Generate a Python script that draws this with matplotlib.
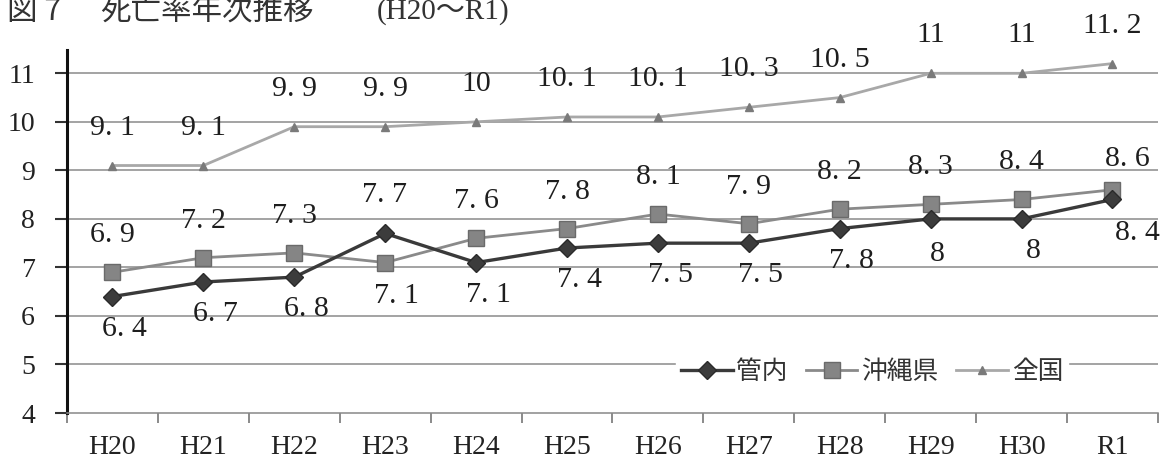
import matplotlib
matplotlib.use("Agg")
import numpy as np
import matplotlib.pyplot as plt
from matplotlib.ticker import FixedLocator

years = ["H20", "H21", "H22", "H23", "H24", "H25", "H26", "H27", "H28", "H29", "H30", "R1"]
kannai = [6.4, 6.7, 6.8, 7.7, 7.1, 7.4, 7.5, 7.5, 7.8, 8, 8, 8.4]
okinawa = [6.9, 7.2, 7.3, 7.1, 7.6, 7.8, 8.1, 7.9, 8.2, 8.3, 8.4, 8.6]
zenkoku = [9.1, 9.1, 9.9, 9.9, 10, 10.1, 10.1, 10.3, 10.5, 11, 11, 11.2]

serif = "Liberation Serif"
cjk = ["Noto Sans CJK JP", "DejaVu Sans"]
W, H = 1170, 461

fig = plt.figure(figsize=(11.7, 4.61), dpi=100)
ax = fig.add_axes([0.0573, 0.1041, 0.9897 - 0.0573, 0.8915 - 0.1041])

x = np.arange(len(years))

ax.plot(x, zenkoku, color="#a8a8a8", lw=2, marker="^", ms=6,
        mfc="#7a7a7a", mec="#7a7a7a", label="全国", zorder=3)
ax.plot(x, okinawa, color="#8a8a8a", lw=2, marker="s", ms=11.5,
        mfc="#858585", mec="#6a6a6a", label="沖縄県", zorder=4)
ax.plot(x, kannai, color="#3a3a3a", lw=2.4, marker="D", ms=9,
        mfc="#3c3c3c", mec="#2a2a2a", label="管内", zorder=5)

def fmt(v):
    s = ("%g" % v)
    return s.replace(".", ". ")

# data labels: default offset per series (pixels), a few moved by hand
offsets = {
    "zenkoku": (0, 38),
    "okinawa": (0, 37),
    "kannai": (12, -32),
}
special = {
    ("okinawa", 3): (11, -33),
    ("okinawa", 11): (15, 31),
    ("kannai", 3): (-1, 38),
    ("kannai", 11): (25, -34),
    ("kannai", 9): (7, -35),
}
for name, vals in [("zenkoku", zenkoku), ("okinawa", okinawa), ("kannai", kannai)]:
    for i, v in enumerate(vals):
        dx, dy = special.get((name, i), offsets[name])
        ax.annotate(fmt(v), (x[i], v), xytext=(dx, dy), textcoords="offset pixels",
                    ha="center", va="center", fontsize=21.5, family=serif,
                    color="#1e1e1e", zorder=6)

ax.set_xlim(-0.5, len(years) - 0.5)
ax.set_ylim(4, 11.48)

ax.set_yticks(range(4, 12))
ax.set_yticklabels([str(v) for v in range(4, 12)], family=serif, fontsize=20, color="#222222")
ax.tick_params(axis="y", direction="out", length=9, width=1.5, pad=14, color="#333333")

ax.set_xticks(x)
ax.set_xticklabels(years, family=serif, fontsize=20, color="#222222")
ax.xaxis.set_minor_locator(FixedLocator(np.arange(-0.5, len(years), 1)))
ax.tick_params(axis="x", which="major", length=0, pad=16)
ax.tick_params(axis="x", which="minor", direction="out", length=7, width=1.2, color="#777777")

for v in range(5, 12):
    ax.axhline(v, color="#8a8a8a", lw=1.1, zorder=1)

for s in ["top", "right"]:
    ax.spines[s].set_visible(False)
ax.spines["left"].set_linewidth(2.2)
ax.spines["left"].set_color("#111111")
ax.spines["bottom"].set_color("#888888")
ax.spines["bottom"].set_linewidth(1.1)

h, l = ax.get_legend_handles_labels()
order = [2, 1, 0]
leg = ax.legend([h[k] for k in order], [l[k] for k in order], loc="center",
                bbox_to_anchor=(0.738, 0.113), ncol=3, frameon=True,
                prop={"family": cjk, "size": 18.5}, handlelength=2.0,
                handletextpad=0.15, columnspacing=0.7, borderpad=0.2)
leg.get_frame().set_edgecolor("white")
leg.get_frame().set_facecolor("white")
leg.get_frame().set_alpha(1)
for t in leg.get_texts():
    t.set_color("#333333")

# title, near the top edge like the scan
ty = 1 - 12 / H
fig.text(7 / W, ty, "図 7", family=cjk, fontsize=22, ha="left", va="center", color="#333333")
fig.text(100 / W, ty, "死亡率年次推移", family=cjk, fontsize=22, ha="left", va="center", color="#333333")
fig.text(377 / W, ty, "(H20～R1)", family=[serif, "Noto Sans CJK JP"], fontsize=21,
         ha="left", va="center", color="#333333")

fig.savefig("out.png", dpi=100)
